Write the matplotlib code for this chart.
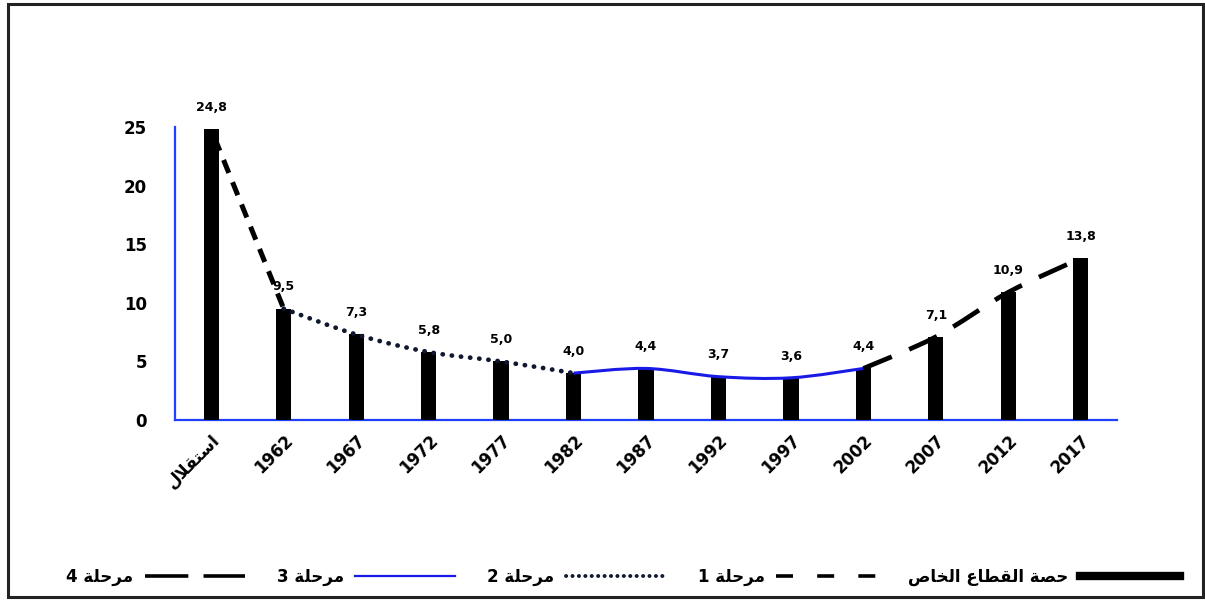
import numpy as np
import matplotlib.pyplot as plt
from matplotlib.path import Path
from matplotlib.patches import PathPatch, Rectangle
from matplotlib.lines import Line2D

plt.rcParams['font.family'] = ['DejaVu Sans']
plt.rcParams['font.weight'] = 'bold'

# share of the private sector, by year
years = ['استقلال', '1962', '1967', '1972', '1977', '1982', '1987',
         '1992', '1997', '2002', '2007', '2012', '2017']
share = [24.8, 9.5, 7.3, 5.8, 5.0, 4.0, 4.4, 3.7, 3.6, 4.4, 7.1, 10.9, 13.8]

# first and last index of each phase along the curve
phase_1 = (0, 1)
phase_2 = (1, 5)
phase_3 = (5, 9)
phase_4 = (9, 12)

series_label = 'حصة القطاع الخاص'
phase_word = 'مرحلة'

# contextual forms (isolated, final, initial, medial) for the letters used
FORMS = {
    'ا': (0xFE8D, 0xFE8E, None, None),
    'ر': (0xFEAD, 0xFEAE, None, None),
    'ة': (0xFE93, 0xFE94, None, None),
    'س': (0xFEB1, 0xFEB2, 0xFEB3, 0xFEB4),
    'ت': (0xFE95, 0xFE96, 0xFE97, 0xFE98),
    'ق': (0xFED5, 0xFED6, 0xFED7, 0xFED8),
    'ل': (0xFEDD, 0xFEDE, 0xFEDF, 0xFEE0),
    'م': (0xFEE1, 0xFEE2, 0xFEE3, 0xFEE4),
    'ح': (0xFEA1, 0xFEA2, 0xFEA3, 0xFEA4),
    'ص': (0xFEB9, 0xFEBA, 0xFEBB, 0xFEBC),
    'ط': (0xFEC1, 0xFEC2, 0xFEC3, 0xFEC4),
    'ع': (0xFEC9, 0xFECA, 0xFECB, 0xFECC),
    'خ': (0xFEA5, 0xFEA6, 0xFEA7, 0xFEA8),
}


def shape(text):
    """Join Arabic letters and put them in left-to-right drawing order."""
    out = []
    i = 0
    while i < len(text):
        ch = text[i]
        prev = text[i - 1] if i > 0 else None
        nxt = text[i + 1] if i + 1 < len(text) else None
        joins_prev = prev in FORMS and FORMS[prev][2] is not None
        if ch not in FORMS:
            out.append(ch)
            i += 1
            continue
        if ch == 'ل' and nxt == 'ا':
            out.append(chr(0xFEFC if joins_prev else 0xFEFB))
            i += 2
            continue
        iso, fin, ini, med = FORMS[ch]
        joins_next = ini is not None and nxt in FORMS
        if joins_prev and joins_next:
            code = med
        elif joins_prev:
            code = fin
        elif joins_next:
            code = ini
        else:
            code = iso
        out.append(chr(code))
        i += 1
    return ''.join(reversed(out))


def smooth_path(xs, ys):
    # cubic Bezier segments through the points, like a smoothed office chart line
    pts = np.column_stack([xs, ys]).astype(float)
    n = len(pts)
    verts = [pts[0]]
    codes = [Path.MOVETO]
    for i in range(n - 1):
        p0 = pts[i - 1] if i > 0 else pts[i]
        p1, p2 = pts[i], pts[i + 1]
        p3 = pts[i + 2] if i + 2 < n else p2
        verts += [p1 + (p2 - p0) / 6, p2 - (p3 - p1) / 6, p2]
        codes += [Path.CURVE4] * 3
    return Path(verts, codes)


x = np.arange(len(years))
blue = '#1a1ae6'
axis_blue = '#2040ff'

fig = plt.figure(figsize=(12.05, 6.02), dpi=100)
ax = fig.add_axes([0.1452, 0.3023, 0.7818, 0.4867])

ax.bar(x, share, width=0.21, color='black', zorder=3)

styles = [
    (phase_1, dict(edgecolor='black', lw=3.6, linestyle=(3.0, (2.8, 2.0))), 2),
    (phase_2, dict(edgecolor='#101830', lw=3.4, linestyle=(0, (0.05, 1.9)), capstyle='round'), 4),
    (phase_3, dict(edgecolor=blue, lw=2.2, linestyle='-'), 4),
    (phase_4, dict(edgecolor='black', lw=3.4, linestyle=(0, (6.5, 4.0))), 4),
]
for (a, b), kw, z in styles:
    path = smooth_path(x[a:b + 1], share[a:b + 1])
    ax.add_patch(PathPatch(path, facecolor='none', zorder=z, **kw))

for xi, v in zip(x, share):
    ax.annotate(f'{v:.1f}'.replace('.', ','), (xi, v), xytext=(0, 11),
                textcoords='offset points', ha='center', va='bottom',
                fontsize=9, fontweight='bold')

ax.set_xlim(-0.5, len(years) - 0.5)
ax.set_ylim(0, 25)
ax.set_yticks(range(0, 26, 5))
ax.set_xticks(x)
ax.set_xticklabels([shape(years[0])] + years[1:], rotation=45, ha='right',
                   rotation_mode='anchor', fontsize=12, fontweight='bold')
ax.tick_params(axis='y', length=0, pad=20, labelsize=12)
ax.tick_params(axis='x', length=0, pad=8)
for s in ['top', 'right']:
    ax.spines[s].set_visible(False)
for s in ['left', 'bottom']:
    ax.spines[s].set_color(axis_blue)
    ax.spines[s].set_linewidth(1.6)

handles = [
    Line2D([], [], color='black', lw=2.6, linestyle=(0, (12, 4.2))),
    Line2D([], [], color=blue, lw=1.6),
    Line2D([], [], color='#101830', lw=2.8, linestyle=(0, (0.05, 1.6)), dash_capstyle='round'),
    Line2D([], [], color='black', lw=2.6, linestyle=(0, (4.7, 6.7))),
    Line2D([], [], color='black', lw=6.0),
]
labels = [f'{n} ' + shape(phase_word) for n in (4, 3, 2, 1)] + [shape(series_label)]
fig.legend(handles, labels, loc='center', bbox_to_anchor=(0.517, 0.042), ncol=5,
           markerfirst=False, frameon=False, handlelength=6.0,
           handletextpad=0.7, columnspacing=1.9, prop={'weight': 'bold', 'size': 12})

# outer frame
fig.add_artist(Rectangle((8 / 1205, 5 / 602), 1195 / 1205, 593 / 602,
                         transform=fig.transFigure, fill=False,
                         edgecolor='#222222', lw=2.2))

fig.savefig('out.png', dpi=100)
